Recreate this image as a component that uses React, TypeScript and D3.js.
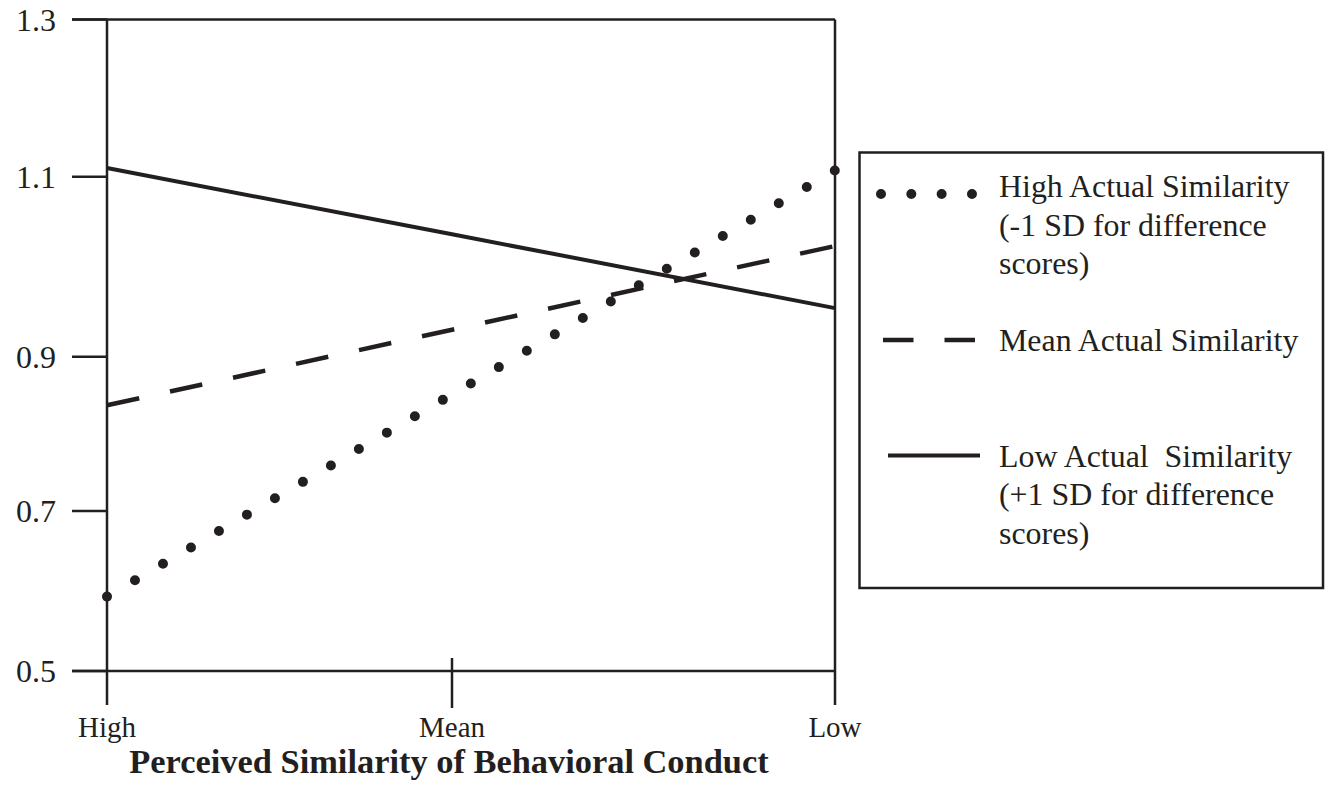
import React from "react";
import * as d3 from "d3";

const xCategories = ["High", "Mean", "Low"];
const yTicks = [0.5, 0.7, 0.9, 1.1, 1.3];
const highActual = [0.593, 0.851, 1.108];
const meanActual = [0.837, 0.93, 1.023];
const lowActual = [1.111, 1.036, 0.954];
const xTitle = "Perceived Similarity of Behavioral Conduct";
const legendHigh = ["High Actual Similarity", "(-1 SD for difference", "scores)"];
const legendMean = ["Mean Actual Similarity"];
const legendLow = ["Low Actual  Similarity", "(+1 SD for difference", "scores)"];

const FONT = "'Liberation Serif', 'Times New Roman', Times, serif";

export default function App() {
  const W = 1325;
  const H = 799;
  // axis is hand-spaced in the original: polylinear scale reproduces it
  const y = d3.scaleLinear().domain(yTicks).range([671, 511, 356.7, 176.7, 19.5]);
  const x = d3.scaleOrdinal<string, number>().domain(xCategories).range([107, 452, 835]);
  const left = x("High");
  const right = x("Low");
  const top = y(1.3);
  const bottom = y(0.5);

  const line = d3
    .line<number>()
    .x((_, i) => x(xCategories[i]))
    .y((d) => y(d));

  const pathLen = (vals: number[]) => {
    let L = 0;
    for (let i = 1; i < vals.length; i++) {
      L += Math.hypot(x(xCategories[i]) - x(xCategories[i - 1]), y(vals[i]) - y(vals[i - 1]));
    }
    return L;
  };
  const dotGap = pathLen(highActual) / 26 - 0.01;

  const lx = 859.5;
  const ly = 152.5;
  const lw = 463.5;
  const lh = 435.5;
  const textX = 999;

  return (
    <svg
      width={W}
      height={H}
      style={{ position: "absolute", left: 0, top: 0, background: "#fff" }}
      fontFamily={FONT}
    >
      <rect x={0} y={0} width={W} height={H} fill="#fff" />
      {/* frame */}
      <g stroke="#231f20" strokeWidth={2.5} fill="none">
        <line x1={72} x2={right} y1={top} y2={top} />
        <line x1={left} x2={left} y1={top} y2={705} />
        <line x1={right} x2={right} y1={top} y2={705} />
        <line x1={72} x2={right} y1={bottom} y2={bottom} />
        {yTicks.map((t) => (
          <line key={t} x1={72} x2={left} y1={y(t)} y2={y(t)} />
        ))}
        <line x1={x("Mean")} x2={x("Mean")} y1={658} y2={708} />
      </g>
      {/* y tick labels */}
      {yTicks.map((t) => (
        <text key={t} x={56} y={y(t) + 11} fontSize={32} textAnchor="end" fill="#231f20">
          {t.toFixed(1)}
        </text>
      ))}
      {/* x tick labels */}
      {xCategories.map((c) => (
        <text key={c} x={x(c)} y={737} fontSize={29} textAnchor="middle" fill="#231f20">
          {c}
        </text>
      ))}
      <text x={449} y={773} fontSize={34.4} fontWeight="bold" textAnchor="middle" fill="#231f20">
        {xTitle}
      </text>

      {/* data lines */}
      <path d={line(lowActual) || ""} fill="none" stroke="#231f20" strokeWidth={4} />
      <path
        d={line(meanActual) || ""}
        fill="none"
        stroke="#231f20"
        strokeWidth={4.5}
        strokeDasharray="33 31.5"
      />
      <path
        d={line(highActual) || ""}
        fill="none"
        stroke="#231f20"
        strokeWidth={10}
        strokeLinecap="round"
        strokeDasharray={`0 ${dotGap}`}
      />

      {/* legend */}
      <rect x={lx} y={ly} width={lw} height={lh} fill="#fff" stroke="#231f20" strokeWidth={2.5} />
      <line
        x1={881}
        x2={972}
        y1={194}
        y2={194}
        stroke="#231f20"
        strokeWidth={10}
        strokeLinecap="round"
        strokeDasharray={`0 ${(972 - 881) / 3 - 0.01}`}
      />
      <line x1={883} x2={975} y1={340} y2={340} stroke="#231f20" strokeWidth={4.5} strokeDasharray="30.5 31" />
      <line x1={888} x2={980} y1={455.5} y2={455.5} stroke="#231f20" strokeWidth={4} />
      <g fontSize={31.9} fill="#231f20">
        {legendHigh.map((s, i) => (
          <text key={s} x={textX} y={197 + i * 38.5} style={{ whiteSpace: "pre" }}>
            {s}
          </text>
        ))}
        {legendMean.map((s, i) => (
          <text key={s} x={textX} y={351 + i * 38.5} style={{ whiteSpace: "pre" }}>
            {s}
          </text>
        ))}
        {legendLow.map((s, i) => (
          <text key={s} x={textX} y={466.5 + i * 38.5} style={{ whiteSpace: "pre" }}>
            {s}
          </text>
        ))}
      </g>
    </svg>
  );
}
